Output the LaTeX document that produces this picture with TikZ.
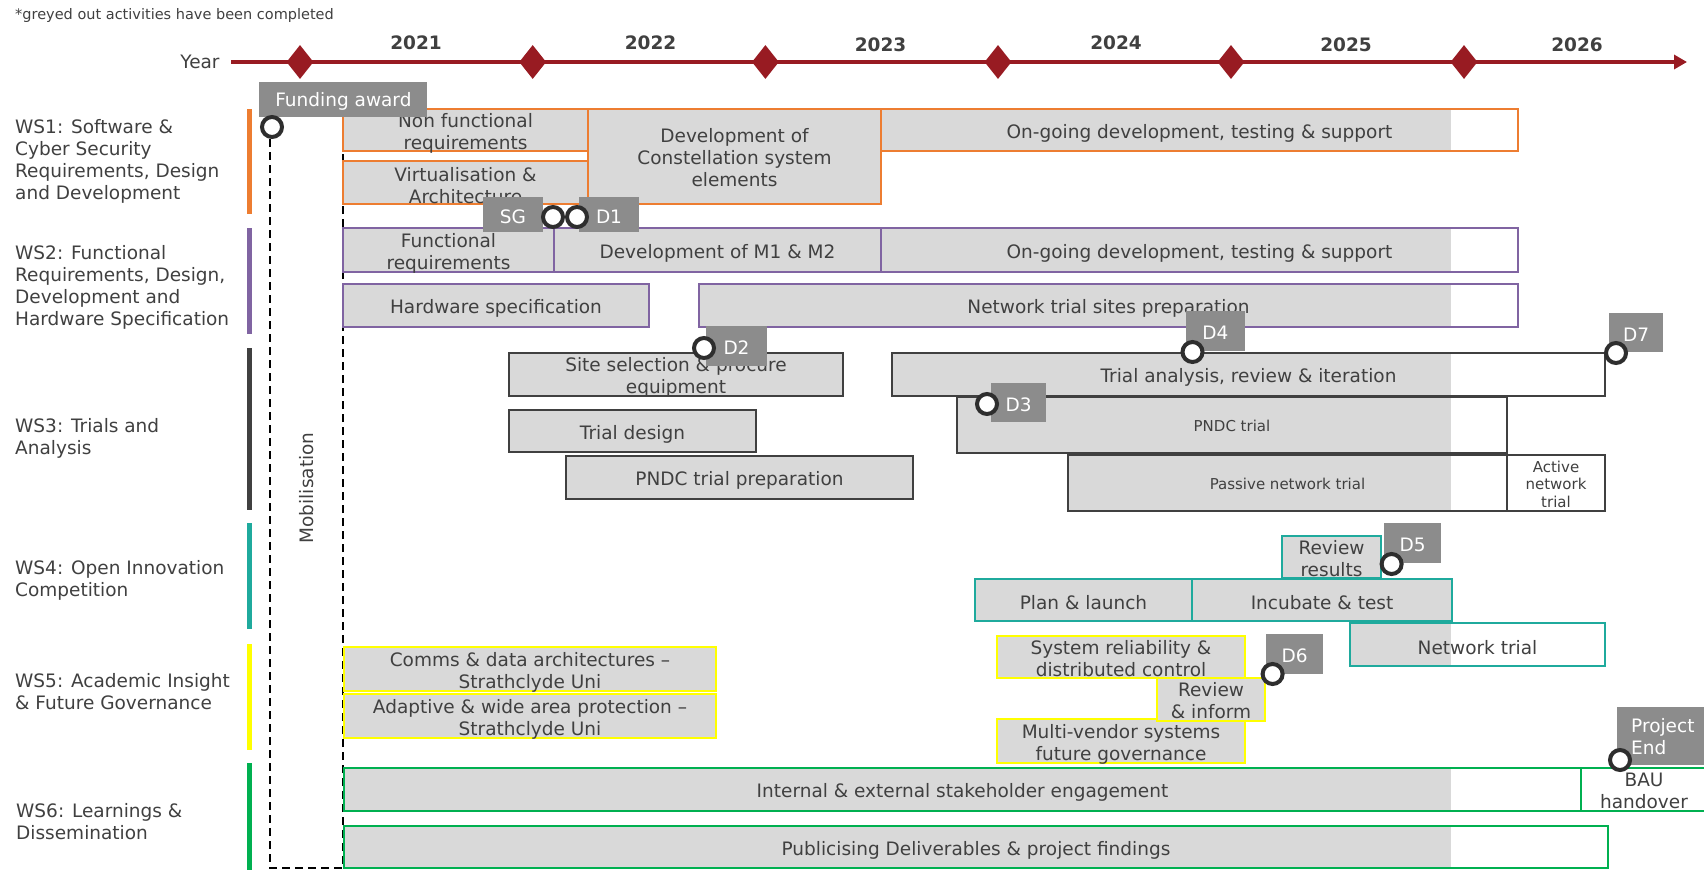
\documentclass[tikz,border=0pt]{standalone}
\usepackage{fontspec}
\setmainfont{DejaVu Sans}
\usetikzlibrary{shapes.geometric,arrows.meta}

\definecolor{tlred}{HTML}{981B22}
\definecolor{txt}{HTML}{404040}
\definecolor{boxfill}{HTML}{D9D9D9}
\definecolor{lblfill}{HTML}{8C8C8C}
\definecolor{wsorange}{HTML}{ED7D31}
\definecolor{wspurple}{HTML}{8064A2}
\definecolor{wsdark}{HTML}{404040}
\definecolor{wsteal}{HTML}{1FAA9D}
\definecolor{wsyellow}{HTML}{FFFF00}
\definecolor{wsgreen}{HTML}{00B050}
\definecolor{ring}{HTML}{2E2E2E}

\newcommand{\fsz}[2]{\fontsize{#1}{#2}\selectfont}
% name, box style, text style, x1, y1, x2, y2, text
\newcommand{\actbox}[8]{\node[#2, minimum width={#6-#4}, minimum height={#7-#5}] (#1) at ({(#4+#6)/2},{(#5+#7)/2}) {};
  \node[acttext, #3] (#1-t) at ([yshift=-3pt]#1.center) {#8};}
\newcommand{\actpart}[8]{\fill[boxfill] (#4,#5) rectangle (1451,#7);
  \actbox{#1}{#2, fill=none}{#3}{#4}{#5}{#6}{#7}{#8}}
\newcommand{\mlabel}[6]{\node[lbl, minimum width={#4-#2}, minimum height={#5-#3}] (#1) at ({(#2+#4)/2},{(#3+#5)/2}) {};
  \node[lbltext] (#1-t) at ([yshift=-2pt]#1.center) {#6};}

\begin{document}
\begin{tikzpicture}[x=1pt,y=-1pt,
  act/.style={rectangle, draw=#1, line width=1.8pt, fill=boxfill, inner sep=0pt, outer sep=0pt},
  acttext/.style={text=txt, align=center, font=\fsz{18.5}{22}, inner sep=0pt},
  small/.style={font=\fsz{15}{17.5}},
  up/.style={yshift=1.5pt},
  lbl/.style={rectangle, fill=lblfill, inner sep=0pt},
  lbltext/.style={text=white, inner sep=0pt, font=\fsz{18.5}{22}},
  ms/.style={circle, draw=ring, line width=4pt, fill=white, minimum size=20pt, inner sep=0pt},
  wslabel/.style={anchor=west, align=left, text=txt, font=\fsz{18.5}{22}, inner sep=0pt},
  wsbar/.style={rectangle, fill=#1, minimum width=5pt, inner sep=0pt},
  yearlbl/.style={text=txt, font=\bfseries\fsz{18.5}{22}, inner sep=0pt},
  ydiamond/.style={diamond, fill=tlred, minimum width=27pt, minimum height=34pt, inner sep=0pt},
  mobline/.style={black, line width=1.8pt, dash pattern=on 8pt off 5pt}
]
\useasboundingbox (0,0) rectangle (1704,870);

% note
\node[anchor=west, text=txt, font=\fsz{14.5}{17}, inner sep=0pt] (note) at (15,15) {*greyed out activities have been completed};

% timeline
\node[text=txt, font=\fsz{18.5}{22}, inner sep=0pt] (yearword) at (200,62) {Year};
\coordinate (tlstart) at (231,62);
\coordinate (tlend) at (1687,62);
\draw[tlred, line width=4pt, -{Triangle[length=13pt,width=14pt]}] (tlstart) -- (tlend);
\node[ydiamond] (dm1) at (300,62) {};
\node[ydiamond] (dm2) at (532.7,62) {};
\node[ydiamond] (dm3) at (765.4,62) {};
\node[ydiamond] (dm4) at (998,62) {};
\node[ydiamond] (dm5) at (1231,62) {};
\node[ydiamond] (dm6) at (1464,62) {};
\node[yearlbl] (y21) at (416,43) {2021};
\node[yearlbl] (y22) at (650.5,43) {2022};
\node[yearlbl] (y23) at (880.5,45) {2023};
\node[yearlbl] (y24) at (1116,43) {2024};
\node[yearlbl] (y25) at (1346,45) {2025};
\node[yearlbl] (y26) at (1577,45) {2026};

% workstream bars and labels
\node[wsbar=wsorange, minimum height=105pt] (bar1) at (249,161.5) {};
\node[wsbar=wspurple, minimum height=106pt] (bar2) at (249,281) {};
\node[wsbar=wsdark, minimum height=162pt] (bar3) at (249,429) {};
\node[wsbar=wsteal, minimum height=106pt] (bar4) at (249,576) {};
\node[wsbar=wsyellow, minimum height=106pt] (bar5) at (249,697) {};
\node[wsbar=wsgreen, minimum height=107pt] (bar6) at (249,816.5) {};

\node[wslabel] (ws1) at (15,161) {WS1: Software \&\\Cyber Security\\Requirements, Design\\and Development};
\node[wslabel] (ws2) at (15,287) {WS2: Functional\\Requirements, Design,\\Development and\\Hardware Specification};
\node[wslabel] (ws3) at (15,438.5) {WS3: Trials and\\Analysis};
\node[wslabel] (ws4) at (15,580) {WS4: Open Innovation\\Competition};
\node[wslabel] (ws5) at (15,692) {WS5: Academic Insight\\\& Future Governance};
\node[wslabel] (ws6) at (16,822) {WS6: Learnings \&\\Dissemination};

% mobilisation
\coordinate (mobTL) at (270,139);
\coordinate (mobBL) at (270,868);
\coordinate (mobBR) at (343,868);
\coordinate (mobTR) at (343,110);
\draw[mobline] (mobTL) -- (mobBL) -- (mobBR) -- (mobTR);
\node[rotate=90, text=txt, font=\fsz{18.5}{22}, inner sep=0pt] (mob) at (307,488) {Mobilisation};

% WS1
\actbox{nfr}{act=wsorange}{}{343}{109}{588}{151}{Non functional\\requirements}
\actbox{virt}{act=wsorange}{}{343}{161}{588}{204}{Virtualisation \&\\Architecture}
\actbox{devc}{act=wsorange}{up}{588}{109}{881}{204}{Development of\\Constellation system\\elements}
\actpart{ong1}{act=wsorange}{}{881}{109}{1518}{151}{On-going development, testing \& support}

% WS2
\actbox{freq}{act=wspurple}{}{343}{228}{554}{272}{Functional\\requirements}
\actbox{mdev}{act=wspurple}{}{554}{228}{881}{272}{Development of M1 \& M2}
\actpart{ong2}{act=wspurple}{}{881}{228}{1518}{272}{On-going development, testing \& support}
\actbox{hw}{act=wspurple}{}{343}{284}{649}{327}{Hardware specification}
\actpart{nts}{act=wspurple}{}{699}{284}{1518}{327}{Network trial sites preparation}

% WS3
\actbox{site}{act=wsdark}{}{509}{353}{843}{396}{Site selection \& procure\\equipment}
\actbox{tdes}{act=wsdark}{}{509}{410}{756}{452}{Trial design}
\actbox{pprep}{act=wsdark}{}{566}{456}{913}{499}{PNDC trial preparation}
\actpart{tana}{act=wsdark}{}{892}{353}{1605}{396}{Trial analysis, review \& iteration}
\actpart{pndc}{act=wsdark}{small, yshift=2pt}{957}{397}{1507}{453}{PNDC trial}
\actpart{pass}{act=wsdark}{small, yshift=2pt}{1068}{455}{1507}{511}{Passive network trial}
\actbox{activ}{act=wsdark, fill=white}{small, yshift=2pt}{1507}{455}{1605}{511}{Active\\network\\trial}

% WS4
\actbox{revr}{act=wsteal}{up}{1282}{536}{1381}{578}{Review\\results}
\actbox{plan}{act=wsteal}{}{975}{579}{1192}{621}{Plan \& launch}
\actbox{incu}{act=wsteal}{}{1192}{579}{1452}{621}{Incubate \& test}
\actpart{ntri}{act=wsteal}{}{1350}{623}{1605}{666}{Network trial}

% WS5
\actbox{comms}{act=wsyellow}{}{344}{647}{716}{691}{Comms \& data architectures –\\Strathclyde Uni}
\actbox{adapt}{act=wsyellow}{}{344}{694}{716}{738}{Adaptive \& wide area protection –\\Strathclyde Uni}
\actbox{sysrel}{act=wsyellow}{up}{997}{636}{1245}{678}{System reliability \&\\distributed control}
\actbox{multi}{act=wsyellow}{}{997}{719}{1245}{763}{Multi-vendor systems\\future governance}
\actbox{revi}{act=wsyellow}{yshift=2pt}{1157}{678}{1265}{721}{Review\\\& inform}

% WS6
\actpart{intl}{act=wsgreen}{}{344}{768}{1581}{811}{Internal \& external stakeholder engagement}
\actbox{bau}{act=wsgreen, fill=white}{up}{1581}{768}{1707}{811}{BAU\\handover}
\actpart{publ}{act=wsgreen}{}{344}{826}{1608}{868}{Publicising Deliverables \& project findings}

% milestone labels
\mlabel{fund}{259.4}{81.7}{427.4}{116.7}{Funding award}
\mlabel{sgl}{483}{197}{543}{232}{SG}
\mlabel{d1l}{579}{197}{639}{232}{D1}
\mlabel{d2l}{706}{326}{767}{366}{D2}
\mlabel{d3l}{991}{383}{1046}{422}{D3}
\mlabel{d4l}{1185.5}{311}{1245}{351}{D4}
\mlabel{d5l}{1384}{523}{1441}{563}{D5}
\mlabel{d6l}{1266}{634}{1323}{674}{D6}
\mlabel{d7l}{1609}{313}{1663}{352}{D7}
\node[lbl, anchor=north west, minimum width=100pt, minimum height=58pt] (pendl) at (1617,707) {};
\node[lbltext, anchor=west, align=left] (pendl-t) at ([xshift=14pt]pendl.west) {Project\\End};

% milestone circles
\node[ms] (msfund) at (272,127) {};
\node[ms] (mssg) at (553,217) {};
\node[ms] (msd1) at (577,217) {};
\node[ms] (msd2) at (704,348) {};
\node[ms] (msd3) at (987,404) {};
\node[ms] (msd4) at (1192.5,352) {};
\node[ms] (msd7) at (1616,353) {};
\node[ms] (msd5) at (1391.6,564) {};
\node[ms] (msd6) at (1272.6,674) {};
\node[ms] (msend) at (1620,760) {};
\end{tikzpicture}
\end{document}
